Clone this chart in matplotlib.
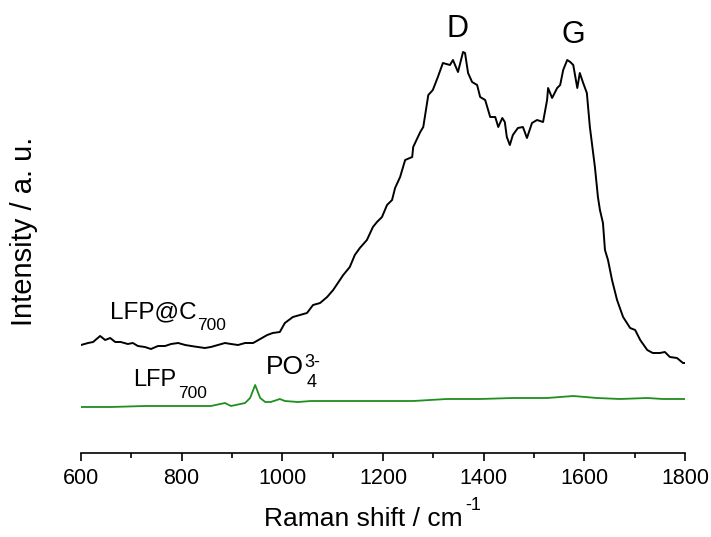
import matplotlib
matplotlib.use("Agg")
import matplotlib.pyplot as plt

plt.rcParams['font.family'] = ['Liberation Sans', 'DejaVu Sans']

# LFP@C700 spectrum (Raman shift, intensity a.u.)
shift_c = [600, 614, 624, 638, 648, 658, 668, 679, 693, 703, 713, 727, 739, 753,
           767, 779, 793, 807, 819, 832, 846, 858, 872, 886, 898, 912, 926, 942,
           956, 970, 981, 995, 1005, 1021, 1035, 1049, 1061, 1075, 1089, 1101,
           1109, 1121, 1134, 1144, 1154, 1168, 1180, 1188, 1198, 1208, 1218,
           1224, 1234, 1244, 1258, 1260, 1274, 1280, 1290, 1299, 1309, 1319,
           1333, 1339, 1349, 1359, 1363, 1369, 1377, 1387, 1393, 1403, 1413,
           1423, 1429, 1437, 1442, 1446, 1452, 1458, 1468, 1478, 1486, 1496,
           1506, 1518, 1526, 1528, 1536, 1546, 1552, 1558, 1566, 1572, 1578,
           1586, 1591, 1597, 1605, 1611, 1621, 1627, 1631, 1637, 1641, 1647,
           1655, 1665, 1677, 1691, 1701, 1711, 1725, 1736, 1750, 1760, 1770,
           1784, 1796, 1800]
int_c = [108, 110, 111, 117, 113, 115, 111, 111, 109, 110, 107, 106, 104, 107,
         107, 109, 110, 108, 107, 106, 105, 106, 108, 110, 109, 108, 110, 110,
         114, 118, 120, 121, 130, 136, 138, 140, 148, 150, 156, 163,
         169, 178, 186, 198, 205, 213, 226, 231, 236, 248, 253,
         265, 276, 293, 296, 306, 321, 326, 358, 363, 376, 390,
         388, 393, 381, 401, 400, 380, 371, 368, 356, 353, 336,
         336, 326, 335, 331, 316, 308, 318, 325, 326, 315, 330,
         333, 331, 353, 365, 355, 365, 368, 383, 393, 391, 388,
         365, 380, 371, 360, 326, 286, 256, 243, 230, 203, 193,
         173, 153, 136, 125, 123, 113, 103, 100, 100, 101, 96,
         95, 90, 90]

# LFP700 spectrum
shift_p = [600, 660, 727, 793, 858, 886, 898, 926, 936, 946, 956, 966, 977, 995,
           1005, 1031, 1057, 1125, 1194, 1260, 1327, 1393, 1458, 1526, 1578,
           1625, 1671, 1725, 1756, 1796, 1800]
int_p = [46, 46, 47, 47, 47, 50, 47, 50, 55, 68, 55, 51, 51, 54,
         52, 51, 52, 52, 52, 52, 54, 54, 55, 55, 57,
         55, 54, 55, 54, 54, 54]

fig = plt.figure(figsize=(7.11, 5.37), dpi=100)
ax = fig.add_axes([81 / 711, 84 / 537, 604 / 711, 453 / 537])

ax.plot(shift_c, int_c, color='black', lw=1.4)
ax.plot(shift_p, int_p, color='#1f8f1f', lw=1.3)

ax.set_xlim(600, 1800)
ax.set_ylim(0, 453)
for s in ['top', 'right', 'left']:
    ax.spines[s].set_visible(False)
ax.spines['bottom'].set_linewidth(1.2)
ax.set_yticks([])
ax.set_xticks(range(600, 1801, 200))
ax.set_xticks(range(700, 1800, 200), minor=True)
ax.tick_params(axis='x', which='major', length=6, width=1.2, labelsize=15.5, pad=5)
ax.tick_params(axis='x', which='minor', length=3.5, width=1.2)

# axis titles (superscript -1 placed by hand after "cm")
ax.text(1160, -73, 'Raman shift / cm', fontsize=19, ha='center', va='baseline',
        clip_on=False)
ax.text(1363, -57, '-1', fontsize=13, ha='left', va='baseline', clip_on=False)
fig.text(24 / 711, 1 - 231 / 537, 'Intensity / a. u.', rotation=90,
         ha='center', va='center', fontsize=21)

# peak labels
ax.text(1348, 416, 'D', ha='center', va='baseline', fontsize=22)
ax.text(1578, 410, 'G', ha='center', va='baseline', fontsize=22)

# sample labels, subscripts placed by hand
ax.text(657, 135, 'LFP@C', ha='left', va='baseline', fontsize=17.5)
ax.text(831, 123, '700', ha='left', va='baseline', fontsize=12.5)
ax.text(703, 67, 'LFP', ha='left', va='baseline', fontsize=17)
ax.text(793, 55, '700', ha='left', va='baseline', fontsize=12.5)
ax.text(967, 79, 'PO', ha='left', va='baseline', fontsize=19)
ax.text(1043, 86, '3-', ha='left', va='baseline', fontsize=13)
ax.text(1049, 66, '4', ha='left', va='baseline', fontsize=13)

fig.savefig('out.png', dpi=100)
